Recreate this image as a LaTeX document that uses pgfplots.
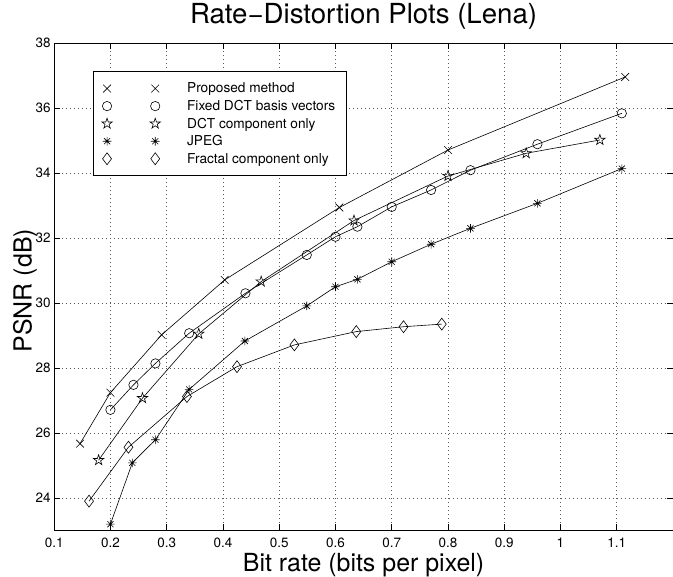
\documentclass[border=0pt]{standalone}
\usepackage{fontspec}
\setmainfont{TeX Gyre Heros}
\usepackage{pgfplots}
\pgfplotsset{compat=1.18}

% MATLAB-style outline pentagram
\pgfdeclareplotmark{pentagram}{%
  \pgfpathmoveto{\pgfpointpolar{90}{\pgfplotmarksize}}%
  \pgfpathlineto{\pgfpointpolar{126}{0.382*\pgfplotmarksize}}%
  \pgfpathlineto{\pgfpointpolar{162}{\pgfplotmarksize}}%
  \pgfpathlineto{\pgfpointpolar{198}{0.382*\pgfplotmarksize}}%
  \pgfpathlineto{\pgfpointpolar{234}{\pgfplotmarksize}}%
  \pgfpathlineto{\pgfpointpolar{270}{0.382*\pgfplotmarksize}}%
  \pgfpathlineto{\pgfpointpolar{306}{\pgfplotmarksize}}%
  \pgfpathlineto{\pgfpointpolar{342}{0.382*\pgfplotmarksize}}%
  \pgfpathlineto{\pgfpointpolar{18}{\pgfplotmarksize}}%
  \pgfpathlineto{\pgfpointpolar{54}{0.382*\pgfplotmarksize}}%
  \pgfpathclose\pgfusepathqstroke}
% MATLAB-style asterisk: plus and cross together
\pgfdeclareplotmark{mstar}{%
  \pgfpathmoveto{\pgfqpoint{-\pgfplotmarksize}{0pt}}%
  \pgfpathlineto{\pgfqpoint{\pgfplotmarksize}{0pt}}%
  \pgfpathmoveto{\pgfqpoint{0pt}{-\pgfplotmarksize}}%
  \pgfpathlineto{\pgfqpoint{0pt}{\pgfplotmarksize}}%
  \pgfpathmoveto{\pgfqpoint{-.70710678\pgfplotmarksize}{-.70710678\pgfplotmarksize}}%
  \pgfpathlineto{\pgfqpoint{.70710678\pgfplotmarksize}{.70710678\pgfplotmarksize}}%
  \pgfpathmoveto{\pgfqpoint{-.70710678\pgfplotmarksize}{.70710678\pgfplotmarksize}}%
  \pgfpathlineto{\pgfqpoint{.70710678\pgfplotmarksize}{-.70710678\pgfplotmarksize}}%
  \pgfusepathqstroke}

\begin{document}
\begin{tikzpicture}
\begin{axis}[
  scale only axis, width=620.4bp, height=488.4bp,
  xmin=0.1, xmax=1.2, ymin=23, ymax=38,
  xtick={0.1,0.2,0.3,0.4,0.5,0.6,0.7,0.8,0.9,1,1.1},
  ytick={24,26,28,30,32,34,36,38},
  /pgf/number format/assume math mode=true,
  ticklabel style={font=\fontsize{13.5bp}{15bp}\selectfont},
  xticklabel style={yshift=-4.5bp},
  tick align=inside, major tick length=6bp,
  tick style={black, line width=0.5bp},
  axis line style={black, line width=0.6bp},
  grid=major,
  major grid style={black!65, line width=0.6bp, dash pattern=on 0.8bp off 3.2bp},
  title={Rate−Distortion Plots (Lena)},
  title style={font=\fontsize{27.7bp}{30bp}\selectfont, at={(0.5,1.0272)}, anchor=base},
  xlabel={Bit rate (bits per pixel)},
  xlabel style={font=\fontsize{25bp}{28bp}\selectfont, at={(0.5,-0.0852)}, anchor=base},
  ylabel={PSNR (dB)},
  ylabel style={font=\fontsize{25bp}{28bp}\selectfont, at={(-0.0364,0.492)}, anchor=base},
  every axis plot/.append style={black, line width=0.6bp, mark options={solid, line width=0.6bp}},
  legend style={at={(0.0629,0.9419)}, anchor=north west, draw=black, line width=0.6bp,
    inner xsep=0pt, inner ysep=8bp, row sep=0pt, column sep=0pt,
    font=\fontsize{13.7bp}{15bp}\selectfont,
    nodes={inner sep=0pt, anchor=west}},
  legend cell align=left,
  legend image code/.code={%
    \path (-13.4bp,-8.5bp) (80bp,8.5bp);
    \draw[#1] plot[only marks] coordinates {(0bp,0bp) (48.3bp,0bp)};},
]
\addplot[mark=x, mark size=5.5bp] coordinates {
 (0.146,25.67) (0.200,27.24) (0.291,29.02) (0.403,30.71) (0.607,32.94) (0.800,34.71) (1.115,36.96)};
\addlegendentry{Proposed method}
\addplot[mark=o, mark size=4.7bp] coordinates {
 (0.200,26.71) (0.241,27.48) (0.280,28.14) (0.340,29.07) (0.440,30.30) (0.549,31.48) (0.600,32.04)
 (0.639,32.35) (0.700,32.96) (0.770,33.48) (0.840,34.09) (0.959,34.89) (1.109,35.84)};
\addlegendentry{Fixed DCT basis vectors\hspace*{11bp}}
\addplot[mark=pentagram, mark size=5.5bp] coordinates {
 (0.179,25.16) (0.257,27.07) (0.357,29.05) (0.468,30.66) (0.633,32.54) (0.800,33.91) (0.939,34.61) (1.070,35.02)};
\addlegendentry{DCT component only}
\addplot[mark=mstar, mark size=4.3bp] coordinates {
 (0.200,23.19) (0.239,25.08) (0.280,25.79) (0.340,27.34) (0.439,28.83) (0.549,29.91) (0.600,30.50)
 (0.639,30.73) (0.700,31.27) (0.770,31.81) (0.840,32.30) (0.959,33.07) (1.109,34.14)};
\addlegendentry{JPEG}
\addplot[mark=diamond, mark size=6bp] coordinates {
 (0.162,23.90) (0.232,25.56) (0.336,27.12) (0.425,28.04) (0.527,28.71) (0.637,29.12) (0.721,29.27) (0.789,29.35)};
\addlegendentry{Fractal component only}
\end{axis}
\pgfresetboundingbox
\path (current axis.south west) ++(-54.3bp,-46.3bp) coordinate (bbsw);
\path (current axis.north east) ++(-1.7bp,43.3bp) coordinate (bbne);
\useasboundingbox (bbsw) rectangle (bbne);
\end{tikzpicture}
\end{document}
